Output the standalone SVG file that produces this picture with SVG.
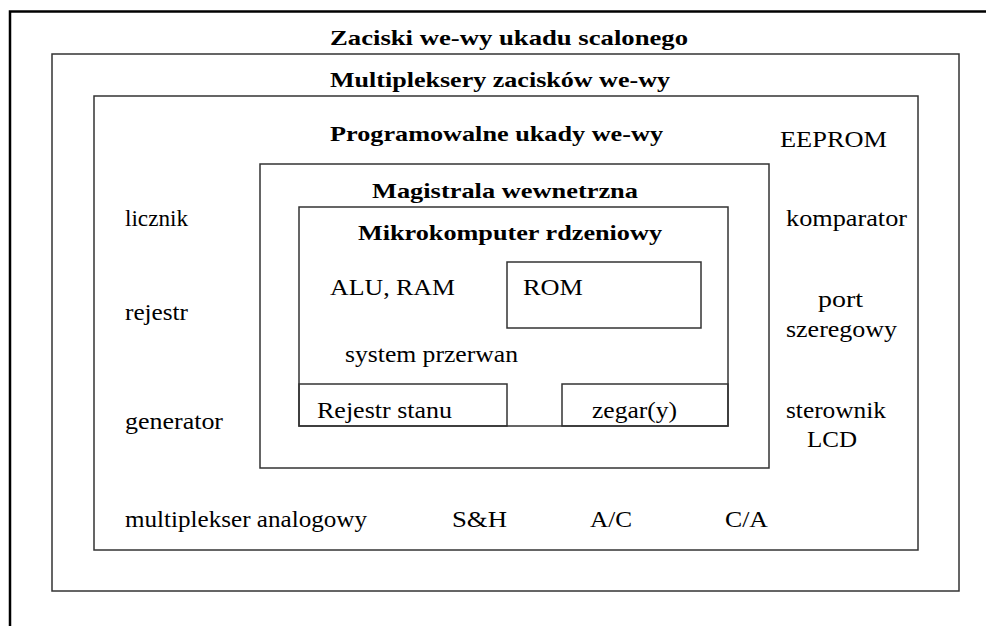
<svg xmlns="http://www.w3.org/2000/svg" width="986" height="626" viewBox="0 0 986 626" font-family="Liberation Serif, Times New Roman, Times, serif">
  <style>
    .box { fill: none; stroke: #333; stroke-width: 1.5; }
    .frame { fill: none; stroke: #000; stroke-width: 2.5; }
    .b { font-weight: bold; font-size: 22px; fill: #000; }
    .r { font-size: 24px; fill: #000; }
  </style>
  <rect width="986" height="626" fill="#fff"/>

  <!-- outer chip frame: top and left edges only -->
  <path class="frame" d="M10,626 V11.5 H986"/>

  <g id="pins">
    <text class="b" x="330" y="45" textLength="358" lengthAdjust="spacingAndGlyphs">Zaciski we-wy ukadu scalonego</text>
  </g>

  <g id="pin-mux">
    <rect class="box" x="52" y="54" width="907" height="537"/>
    <text class="b" x="330" y="86.5" textLength="340" lengthAdjust="spacingAndGlyphs">Multipleksery zacisków we-wy</text>
  </g>

  <g id="programmable-io">
    <rect class="box" x="94" y="96" width="824" height="454"/>
    <text class="b" x="330" y="141" textLength="333" lengthAdjust="spacingAndGlyphs">Programowalne ukady we-wy</text>
    <text class="r" x="780" y="146.5" textLength="107" lengthAdjust="spacingAndGlyphs">EEPROM</text>
    <text class="r" x="125" y="226" textLength="63" lengthAdjust="spacingAndGlyphs">licznik</text>
    <text class="r" x="125" y="320" textLength="63" lengthAdjust="spacingAndGlyphs">rejestr</text>
    <text class="r" x="125" y="429" textLength="98" lengthAdjust="spacingAndGlyphs">generator</text>
    <text class="r" x="786" y="226" textLength="121" lengthAdjust="spacingAndGlyphs">komparator</text>
    <text class="r" x="818" y="306.5" textLength="45" lengthAdjust="spacingAndGlyphs">port</text>
    <text class="r" x="786" y="336.5" textLength="111" lengthAdjust="spacingAndGlyphs">szeregowy</text>
    <text class="r" x="786" y="418" textLength="100" lengthAdjust="spacingAndGlyphs">sterownik</text>
    <text class="r" x="807" y="446.5" textLength="50" lengthAdjust="spacingAndGlyphs">LCD</text>
    <text class="r" x="125" y="527" textLength="242" lengthAdjust="spacingAndGlyphs">multiplekser analogowy</text>
    <text class="r" x="452" y="527" textLength="55" lengthAdjust="spacingAndGlyphs">S&amp;H</text>
    <text class="r" x="590" y="527" textLength="42" lengthAdjust="spacingAndGlyphs">A/C</text>
    <text class="r" x="725" y="527" textLength="43" lengthAdjust="spacingAndGlyphs">C/A</text>
  </g>

  <g id="internal-bus">
    <rect class="box" x="260" y="164" width="509" height="304"/>
    <text class="b" x="372" y="197.5" font-size="24" textLength="266" lengthAdjust="spacingAndGlyphs">Magistrala wewnetrzna</text>
  </g>

  <g id="core">
    <rect class="box" x="299" y="207" width="429" height="219"/>
    <text class="b" x="358" y="240" font-size="24" textLength="304" lengthAdjust="spacingAndGlyphs">Mikrokomputer rdzeniowy</text>
    <text class="r" x="330" y="295" textLength="125" lengthAdjust="spacingAndGlyphs">ALU, RAM</text>
    <text class="r" x="345" y="361.5" textLength="173" lengthAdjust="spacingAndGlyphs">system przerwan</text>
  </g>

  <g id="rom">
    <rect class="box" x="507" y="262" width="194" height="66"/>
    <text class="r" x="523" y="295" textLength="60" lengthAdjust="spacingAndGlyphs">ROM</text>
  </g>

  <g id="status-register">
    <rect class="box" x="299" y="384" width="208" height="42"/>
    <text class="r" x="317" y="417.5" textLength="135" lengthAdjust="spacingAndGlyphs">Rejestr stanu</text>
  </g>

  <g id="clock">
    <rect class="box" x="562" y="384" width="166" height="42"/>
    <text class="r" x="592" y="417.5" textLength="85" lengthAdjust="spacingAndGlyphs">zegar(y)</text>
  </g>

  <g id="connectors"/>
</svg>
